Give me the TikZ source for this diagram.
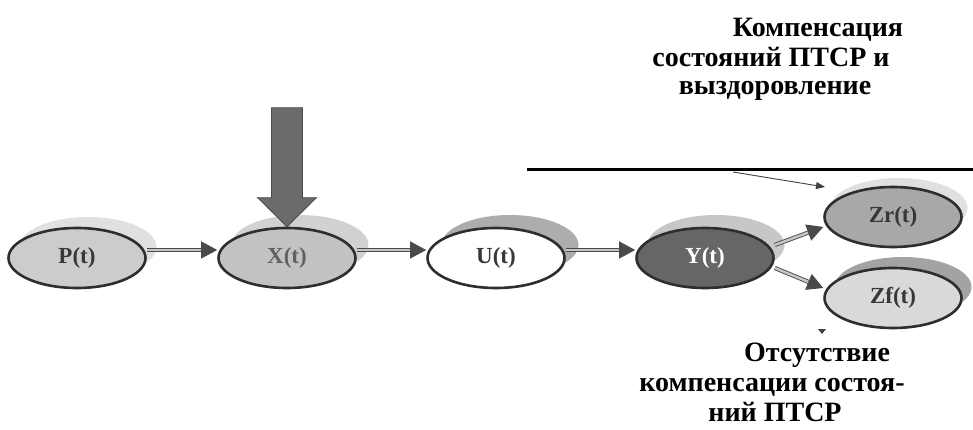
\documentclass[tikz,border=0pt]{standalone}
\usepackage{fontspec}
\setmainfont{Liberation Serif}
\usetikzlibrary{shapes.geometric,arrows.meta,calc}
\definecolor{edge}{HTML}{2E2E2E}
\definecolor{arrowgray}{HTML}{4A4A4A}
\tikzset{
  state/.style={ellipse, draw=edge, line width=2.6pt, minimum width=137pt, minimum height=60pt, inner sep=0pt, font=\fontsize{23}{25}\selectfont\bfseries, text=black!78},
  shadowell/.style={ellipse, minimum width=137pt, minimum height=60pt, inner sep=0pt, draw=none},
  flow/.style={draw=arrowgray, line width=0.9pt, double=black!22, double distance=2.4pt, -{Triangle[length=16pt,width=17pt,fill=arrowgray]}},
  caption/.style={anchor=base, inner sep=0pt, font=\fontsize{28}{30}\selectfont\bfseries},
  thin/.style={draw=black!75, line width=0.9pt, -{Triangle[length=9pt,width=7pt]}}
}
\begin{document}
\begin{tikzpicture}[x=1pt,y=-1pt]
\useasboundingbox (0,0) rectangle (973,430);
% shadows
\node[shadowell, fill=black!12] (Ps) at (88,247) {};
\node[shadowell, fill=black!18] (Xs) at (300,245) {};
\node[shadowell, fill=black!32] (Us) at (510,245) {};
\node[shadowell, fill=black!22] (Ys) at (716,245) {};
\node[shadowell, fill=black!12] (Zrs) at (899,208) {};
\node[shadowell, fill=black!36] (Zfs) at (903,287) {};
% states
\node[state, fill=black!20] (P) at (77,258) {P(t)};
\node[state, fill=black!24, text=black!62] (X) at (287,258) {X(t)};
\node[state, fill=white] (U) at (496,258) {U(t)};
\node[state, fill=black!60, text=white] (Y) at (705,258) {Y(t)};
\node[state, fill=black!34] (Zr) at (893,217) {Zr(t)};
\node[state, fill=black!15] (Zf) at (893,298) {Zf(t)};
% flows
\draw[flow] ([yshift=8pt]P.east) -- ([yshift=8pt]X.west);
\draw[flow] ([yshift=8pt]X.east) -- ([yshift=8pt]U.west);
\draw[flow] ([yshift=8pt]U.east) -- ([yshift=8pt]Y.west);
\draw[flow] ([yshift=13pt]Y.east) -- ([yshift=-10pt]Zr.west);
\draw[flow] ([yshift=-10pt]Y.east) -- ([yshift=10pt]Zf.west);
% big input arrow
\filldraw[fill=black!58, draw=black!70, line width=0.8pt] (X.north) -- ++(-29.5,-29) -- ++(14,0) -- ++(0,-90) -- ++(31,0) -- ++(0,90) -- ++(14,0) -- cycle;
% horizontal bar and thin arrow
\coordinate (barL) at (527,170);
\coordinate (barR) at (973,170);
\draw[line width=3pt, black] (barL) -- (barR);
\coordinate (barA) at (733,172);
\draw[thin] (barA) -- ([xshift=-68pt,yshift=30pt]Zr.center);
% small mark
\fill[black!75] (818,329) -- (826,329) -- (822,334) -- cycle;
% captions
\node[caption] (c1) at (818,37) {Компенсация};
\node[caption] (c2) at (771,67) {состояний ПТСР и};
\node[caption] (c3) at (775,95) {выздоровление};
\node[caption] (d1) at (817,361) {Отсутствие};
\node[caption] (d2) at (772,391) {компенсации состоя-};
\node[caption] (d3) at (775,421) {ний ПТСР};
\end{tikzpicture}
\end{document}
